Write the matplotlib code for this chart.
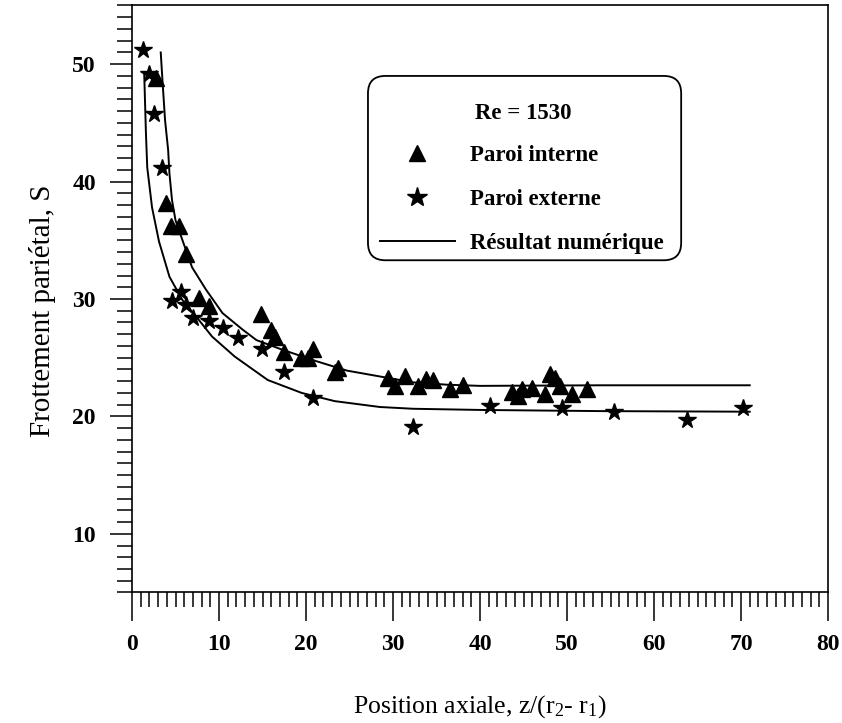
import matplotlib
matplotlib.use('Agg')
import matplotlib.pyplot as plt
from matplotlib.patches import FancyBboxPatch
from matplotlib.lines import Line2D
from matplotlib.ticker import MultipleLocator

plt.rcParams['font.family'] = ['Liberation Serif', 'DejaVu Serif']
plt.rcParams['mathtext.default'] = 'regular'

# paroi interne (triangles)
tri_x = [2.8, 3.9, 4.5, 5.4, 6.2, 7.7, 8.8, 14.8, 16.0, 16.4, 17.5, 19.4, 20.2, 20.8,
         23.3, 23.7, 29.4, 30.2, 31.4, 32.9, 33.8, 34.6, 36.5, 38.1, 43.7, 44.4, 44.8,
         46.0, 47.5, 48.1, 48.6, 49.2, 50.6, 52.3]
tri_y = [48.8, 38.2, 36.2, 36.2, 33.8, 30.1, 29.4, 28.7, 27.4, 26.8, 25.5, 25.0, 25.0, 25.7,
         23.8, 24.1, 23.3, 22.6, 23.4, 22.6, 23.2, 23.1, 22.3, 22.7, 22.1, 21.7, 22.3,
         22.4, 21.9, 23.6, 23.3, 22.6, 21.9, 22.3]

# paroi externe (etoiles)
star_x = [1.3, 2.0, 2.5, 3.5, 4.6, 5.6, 6.2, 7.0, 8.9, 10.5, 12.2, 14.9, 17.5, 20.8,
          32.3, 41.2, 49.4, 55.4, 63.8, 70.2]
star_y = [51.2, 49.2, 45.8, 41.2, 29.8, 30.6, 29.5, 28.4, 28.1, 27.5, 26.7, 25.7, 23.8, 21.6,
          19.1, 20.9, 20.7, 20.35, 19.7, 20.7]

# resultat numerique - paroi interne
num_int_x = [3.3, 3.5, 3.8, 4.15, 4.3, 4.6, 5.0, 5.8, 6.9, 8.5, 10.4, 12.7, 14.3, 17.2,
             21.2, 24.7, 28.5, 32.3, 36.2, 40.0, 54.0, 71.0]
num_int_y = [51.0, 48.6, 45.2, 42.7, 40.7, 38.4, 36.7, 35.0, 32.7, 30.8, 28.8, 27.4, 26.5, 25.7,
             24.7, 23.9, 23.4, 22.9, 22.7, 22.6, 22.65, 22.65]

# resultat numerique - paroi externe
num_ext_x = [1.4, 1.6, 1.75, 2.3, 3.1, 4.3, 5.8, 7.7, 9.2, 11.8, 15.6, 19.5, 23.3, 28.5,
             32.3, 40.0, 54.0, 71.0]
num_ext_y = [49.2, 44.1, 41.2, 37.8, 34.9, 31.9, 29.9, 28.2, 26.8, 25.1, 23.1, 22.0, 21.3, 20.8,
             20.65, 20.55, 20.45, 20.4]

fig = plt.figure(figsize=(8.42, 7.23), dpi=100)
ax = fig.add_axes([0.1568, 0.1805, 0.8266, 0.8119])

ax.plot(num_int_x, num_int_y, color='black', lw=1.4)
ax.plot(num_ext_x, num_ext_y, color='black', lw=1.4)
ax.plot(tri_x, tri_y, ls='none', marker='^', color='black', ms=12)
ax.plot(star_x, star_y, ls='none', marker='*', color='black', ms=13)

ax.set_xlim(0, 80)
ax.set_ylim(5, 55)
ax.xaxis.set_major_locator(MultipleLocator(10))
ax.xaxis.set_minor_locator(MultipleLocator(1))
ax.yaxis.set_major_locator(MultipleLocator(10))
ax.yaxis.set_minor_locator(MultipleLocator(1))
ax.tick_params(axis='x', which='major', direction='out', length=21, width=1.1, pad=9, labelsize=17)
ax.tick_params(axis='x', which='minor', direction='out', length=11, width=1.1)
ax.tick_params(axis='y', which='major', direction='out', length=16, width=1.1, pad=10, labelsize=17)
ax.tick_params(axis='y', which='minor', direction='out', length=11, width=1.1)
for lab in ax.get_xticklabels() + ax.get_yticklabels():
    lab.set_fontweight('bold')
for sp in ax.spines.values():
    sp.set_linewidth(1.2)

ax.set_xlabel('Position axiale, z/(r$_2$- r$_1$)', fontsize=18.5, labelpad=27)
ax.set_ylabel('Frottement pariétal, S', fontsize=21, labelpad=12)
ax.yaxis.label.set_y(0.48)

# cadre arrondi de la legende
box = FancyBboxPatch((0.339, 0.566), 0.45, 0.314, boxstyle='round,pad=0,rounding_size=0.025',
                     mutation_aspect=696 / 587, transform=ax.transAxes,
                     facecolor='white', edgecolor='black', lw=1.3, zorder=3)
ax.add_patch(box)
ax.text(0.562, 0.816, 'Re = 1530', transform=ax.transAxes, ha='center', va='center',
        fontsize=16.5, fontweight='bold', zorder=6)

handles = [Line2D([], [], ls='none', marker='^', color='black', ms=12),
           Line2D([], [], ls='none', marker='*', color='black', ms=15),
           Line2D([], [], color='black', lw=1.4)]
labels = ['Paroi interne', 'Paroi externe', 'Résultat numérique']
leg = ax.legend(handles, labels, loc='center', bbox_to_anchor=(0.560, 0.670),
                frameon=False, prop={'weight': 'bold', 'size': 16.5},
                handlelength=3.27, handletextpad=0.65, labelspacing=1.0, borderpad=0.3)
leg.set_zorder(5)

fig.savefig('out.png', dpi=100)
